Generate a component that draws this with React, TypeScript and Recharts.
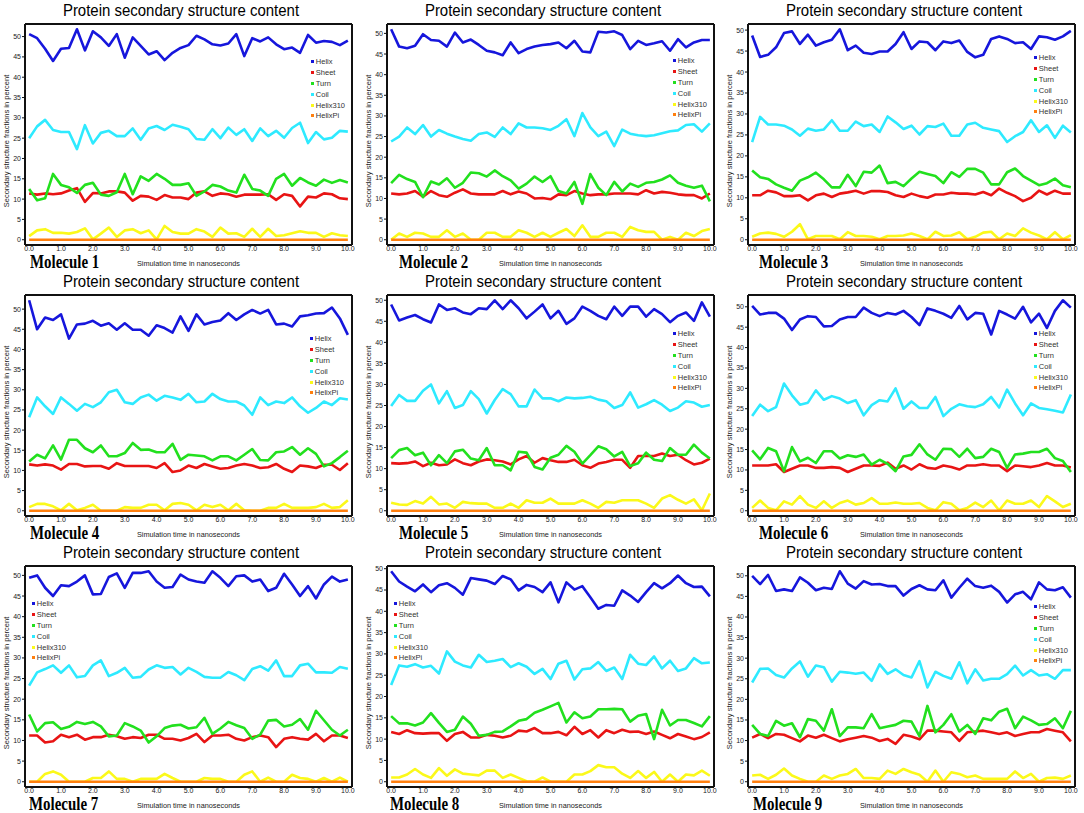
import { LineChart, Line, XAxis, YAxis } from "recharts";

// simulation time in ns, one frame every 0.25 ns
const TIME = [
  0, 0.25, 0.5, 0.75, 1, 1.25, 1.5, 1.75, 2, 2.25, 2.5, 2.75, 3, 3.25, 3.5, 3.75, 4, 4.25, 4.5, 4.75, 5,
  5.25, 5.5, 5.75, 6, 6.25, 6.5, 6.75, 7, 7.25, 7.5, 7.75, 8, 8.25, 8.5, 8.75, 9, 9.25, 9.5, 9.75, 10,
];
const X_TICKS = [0, 1, 2, 3, 4, 5, 6, 7, 8, 9, 10];
const Y_TICKS = [0, 5, 10, 15, 20, 25, 30, 35, 40, 45, 50];
const MOLECULE_NAMES = [
  "Molecule 1", "Molecule 2", "Molecule 3", "Molecule 4", "Molecule 5",
  "Molecule 6", "Molecule 7", "Molecule 8", "Molecule 9",
];

const m1Helix = [50.6, 49.6, 47, 44, 47, 47.2, 51.8, 46.6, 51.3, 49.8, 47.7, 50.6, 44.8, 49.8, 47.7, 45.6, 46.4, 44.2, 46, 47.2, 47.9, 50.2, 49.3, 48.1, 47.8, 48.3, 50.6, 45.2, 49.6, 48.8, 49.8, 48.1, 46.9, 47.3, 46, 50.4, 48.5, 48.9, 48.7, 47.9, 49];
const m1Sheet = [11.4, 11.1, 11.4, 11.2, 11.4, 12.1, 12.7, 9.3, 11.5, 11.4, 11.9, 11.9, 11.6, 9.6, 10.8, 10.6, 9.8, 11, 10.4, 10.4, 10, 11.6, 11.9, 10.8, 11.4, 11.2, 10.6, 11.1, 11.1, 11.1, 11.2, 9.8, 11.2, 10.8, 8.2, 10.6, 10.4, 11.4, 11.2, 10.2, 10];
const m1Turn = [12.5, 9.7, 10.2, 16.2, 13.5, 12.9, 11.5, 13.5, 14, 11.1, 10.8, 11.7, 16.2, 11.2, 15.6, 14.5, 16.2, 15, 13.5, 13.5, 13.9, 10.8, 11.9, 13.5, 13.1, 12.1, 11.6, 16, 12.5, 12.1, 10.8, 15, 16.2, 13.3, 15.2, 14.1, 13.3, 14.8, 14, 14.7, 14.1];
const m1Coil = [25, 27.9, 29.5, 27, 26.5, 26.5, 22.3, 28.2, 23.7, 26.3, 26.8, 25.5, 25.5, 27.4, 24.6, 27.4, 28, 27, 28.3, 27.8, 27.2, 24.8, 24.6, 27.2, 25, 27.6, 25.8, 27.2, 24.3, 27.4, 25.5, 26.8, 25.1, 27.5, 28.8, 23.8, 26.5, 24.7, 25.1, 26.8, 26.6];
const m1H310 = [0.9, 2.3, 2.6, 1.7, 1.7, 1.5, 1.9, 2.8, 0.1, 1.5, 3, 0.7, 2.3, 2.6, 1.6, 2.3, 0.1, 3.4, 1.9, 1.5, 1.5, 2.6, 2, 0.7, 3, 1.5, 1.6, 0.7, 2.7, 0.7, 2.7, 0.9, 1.1, 1.6, 2.1, 1.7, 1.7, 0.7, 1.6, 1.1, 0.9];

const m2Helix = [51, 46.8, 46.4, 47, 49.8, 48.4, 48.2, 46.8, 50.2, 47.8, 48.5, 47.2, 45.8, 45.4, 44.7, 47.8, 45.2, 46.2, 46.8, 47.2, 47.4, 47.8, 46.4, 48.2, 45.6, 45.4, 50.4, 50.2, 50.5, 49.6, 46.2, 48.2, 47.2, 47.6, 48.1, 45.8, 48.6, 46.6, 47.8, 48.4, 48.4];
const m2Sheet = [11.2, 11, 11.2, 11.8, 10.4, 11.8, 10.8, 10.4, 11.4, 12.2, 11.2, 11, 11, 11, 11.8, 11, 11.7, 11.2, 10, 10.1, 9.8, 11, 10.8, 11.8, 11.2, 10.8, 11, 11, 11.2, 11.2, 11.2, 11, 12, 11.2, 11.6, 11.4, 11, 10.8, 10.8, 10, 11.2];
const m2Turn = [13.7, 15.7, 14.7, 14, 10.3, 14.1, 13.4, 14.9, 12.6, 13.8, 16.3, 16.1, 15.3, 16.8, 15.4, 14.4, 12.4, 13.6, 15.3, 14, 15.4, 11.8, 11.2, 14, 8.7, 15.9, 12.6, 10.8, 14, 11.7, 13.6, 12.8, 13.8, 14, 14.6, 15.6, 13.8, 13.1, 12.6, 13.1, 9.3];
const m2Coil = [23.8, 25, 27.2, 25.6, 27.8, 25, 26.6, 25.7, 25, 24.4, 24, 25.6, 26, 24.9, 27.2, 25.6, 28.2, 27.2, 27.2, 27, 26.6, 27.6, 29.2, 25.1, 30.7, 27.2, 25.1, 26.2, 22.7, 26.7, 25.7, 25.3, 25.1, 25.3, 25.8, 26.3, 26.5, 27.8, 28, 26.2, 28.2];
const m2H310 = [0, 1.5, 0.7, 1.7, 1.5, 0.7, 0.7, 2.3, 0.7, 1.5, 0, 0, 1.7, 1.7, 0.7, 0.7, 2.3, 1.7, 0.7, 1.7, 0.7, 1.7, 2.6, 0.9, 3.5, 0.7, 0.7, 1.7, 1.7, 0.7, 3.1, 2.3, 1.9, 1.9, 0, 0.7, 0, 1.7, 0.9, 2.1, 2.6];

const m3Helix = [48.7, 43.6, 44.1, 45.9, 49.3, 49.7, 46.7, 48.9, 46.3, 47.1, 47.7, 50.2, 45.2, 46.3, 44.6, 44.3, 44.9, 44.9, 46.7, 49.5, 45.5, 47.3, 47.1, 45.2, 47.3, 46.9, 47.5, 44.8, 43.5, 44.1, 47.9, 48.5, 47.9, 46.9, 47.1, 45.5, 48.5, 48.3, 47.7, 48.5, 49.8];
const m3Sheet = [10.6, 10.6, 11.7, 11.3, 10.4, 10.4, 10.6, 9.4, 10.6, 11, 10.2, 11, 11.3, 11.7, 11, 11.6, 11.6, 11.4, 10.6, 10.2, 11, 10.4, 10, 10.8, 10.8, 11.2, 11, 11, 10.8, 11.4, 10.6, 12.2, 11.2, 10.4, 9.2, 10, 11.7, 10.8, 11.7, 11, 11];
const m3Turn = [16.5, 14.9, 14.5, 13.2, 12.4, 11.7, 14.1, 14.9, 16, 14.4, 12.5, 12.5, 15.5, 12.8, 16.2, 16, 17.7, 13.5, 13.8, 12.8, 14.6, 16.2, 15.7, 15.2, 13.5, 16.1, 15, 16.9, 16.9, 16, 13.2, 13.2, 16.1, 17, 15.2, 14.1, 13, 13.5, 14.6, 13, 12.5];
const m3Coil = [23.3, 29.3, 27.5, 27.5, 27.2, 26.3, 24.8, 26.5, 26, 26.3, 28.5, 26, 26, 28.2, 27.1, 27.5, 25.7, 29.4, 28, 26.4, 27.2, 25.1, 27.1, 26.9, 27.7, 24.8, 24.8, 27.5, 27.9, 26.7, 26.3, 25.9, 23.3, 24.7, 25.7, 28.5, 25.7, 27.3, 24.3, 27.2, 25.6];
const m3H310 = [0.7, 1.5, 1.7, 1.4, 0.7, 1.9, 3.7, 0.1, 0.9, 0.9, 0.9, 0.1, 1.8, 0.9, 0.9, 0.7, 0.1, 0.9, 0.9, 1, 1.5, 0.9, 0.1, 1.9, 0.9, 1, 1.8, 0.1, 0.7, 1.7, 1.9, 0.1, 1.5, 0.9, 2.7, 1.7, 1, 0.1, 1.8, 0.1, 1.1];

const m4Helix = [52.2, 45, 47.9, 47.3, 48.7, 42.7, 46.2, 46.4, 47.1, 45.9, 46.5, 44.9, 46.5, 44.9, 44.9, 43.4, 46, 45.3, 44.2, 48.2, 44.6, 48.7, 46.2, 46.8, 47.2, 49, 47.3, 48.7, 49.8, 48.9, 49.8, 46.2, 46.4, 45.7, 48.2, 48.5, 48.9, 49, 50.4, 47.7, 43.6];
const m4Sheet = [11.5, 11.2, 11.5, 11.2, 10.2, 11.6, 11.6, 11, 11.1, 11.1, 10.4, 11.8, 11.1, 11.1, 11.1, 11.1, 10.6, 11.8, 9.6, 10, 11.2, 10.6, 11.6, 11, 10.4, 10.6, 11.2, 11.6, 11.2, 10.6, 10.8, 11.6, 10.4, 9.6, 11.2, 11, 10.6, 11.4, 11.4, 10.1, 11.8];
const m4Turn = [12.2, 13.9, 13, 16.2, 12.7, 17.6, 17.6, 15.5, 14.5, 16.2, 13.5, 13.5, 14.3, 16.8, 15.1, 15.2, 14.5, 14.5, 16.6, 12.6, 13.9, 13.7, 13.5, 12.5, 13.5, 13.5, 12.5, 13.9, 15.3, 12.6, 12.5, 14.5, 14.7, 15.8, 13.9, 15.5, 14.1, 11, 11.8, 13.3, 14.9];
const m4Coil = [23.2, 28.1, 25.9, 24, 28.1, 26.5, 24.8, 26.5, 25.7, 26.9, 29.4, 30, 26.9, 26.5, 28.1, 28.8, 27.3, 28.5, 28.1, 27.5, 29, 26.9, 27.1, 29, 27.7, 27.1, 27.1, 26.1, 23.8, 28.1, 26.2, 27.1, 26.7, 28.1, 25.9, 24.3, 25.5, 27.1, 26.2, 27.9, 27.6];
const m4H310 = [0.9, 1.7, 1.7, 1.1, 0.1, 1.7, 0.1, 0.7, 1.5, 0, 0, 0, 0.9, 0.7, 0.7, 1.5, 1.5, 0.1, 1.7, 1.9, 1.5, 0.1, 1.5, 0.9, 1.5, 0.1, 1.7, 0.1, 0, 0, 0.7, 0.7, 1.7, 0.7, 0.7, 0.7, 0.9, 1.7, 0.7, 0.9, 2.6];

const m5Helix = [49, 45.2, 45.9, 46.5, 45.5, 44.7, 49, 47.7, 48.1, 47.1, 46.7, 48.1, 47.9, 50, 47.9, 50, 48.1, 45.7, 47.3, 49, 45.7, 47.5, 44.4, 45.7, 48.5, 47.5, 46.3, 45.5, 48.5, 46.3, 48.5, 48.5, 46.1, 47.9, 46.7, 44.8, 46.3, 47.1, 45.1, 49.5, 46.1];
const m5Sheet = [11.3, 11.2, 11.3, 11.7, 10.6, 11.4, 10.8, 11, 12.2, 11.3, 10.8, 11.7, 12.2, 12, 11.7, 11, 12.2, 13, 11.4, 12.5, 12, 11.6, 11.6, 12.1, 10.8, 10.2, 11.2, 11.6, 12.1, 12.1, 10.2, 13, 13, 13, 13.6, 13, 13.3, 12, 11, 11.4, 12.4];
const m5Turn = [12.5, 14.4, 14.9, 13.2, 13.8, 10.8, 13.2, 11.3, 14.1, 14.5, 12.4, 12, 14.9, 10.8, 10.8, 9.6, 14, 13.8, 10.4, 9.8, 12.6, 13.3, 15.4, 14, 11.2, 13.2, 15.3, 14.6, 12.9, 14, 10.6, 11.3, 13.8, 12.1, 11.8, 14.9, 13.3, 13.3, 15.7, 13.8, 12.4];
const m5Coil = [24.9, 27.5, 26.1, 26.1, 28.5, 30, 25.5, 28.4, 24.4, 25.1, 28.4, 26.5, 23.1, 26.3, 28.9, 27.7, 24.8, 24.8, 28.8, 26.7, 26.7, 26, 26.9, 26.7, 26.8, 27.1, 26.4, 26, 24.4, 25.1, 28.1, 24.5, 25.3, 26.3, 25.2, 23.7, 24.5, 26, 25.7, 24.7, 25.1];
const m5H310 = [1.9, 1.5, 1.4, 2.3, 1.7, 3.3, 1.5, 1.7, 0.7, 2.1, 1.8, 1.7, 1.7, 0.7, 0.7, 1.7, 0.7, 2.5, 1.9, 1.9, 2.9, 1.7, 1.7, 1.7, 2.5, 1.7, 0.7, 2.1, 1.9, 2.5, 2.5, 2.5, 1.7, 0.7, 2.9, 3.7, 2.6, 1.7, 2.7, 0.1, 4.1];

const m6Helix = [50.2, 48.1, 48.5, 48.5, 47.1, 44.3, 46.9, 47.7, 47.5, 45.2, 45.3, 46.9, 47.5, 47.5, 49.8, 48.5, 47.7, 48.5, 48.1, 49, 47.5, 45.5, 49.6, 49, 48.3, 47.3, 50.2, 46.9, 48.5, 48.3, 43.2, 49, 48.1, 47.1, 50, 46.2, 48.3, 44.8, 49, 51.6, 49.8];
const m6Sheet = [11.1, 11.1, 11.1, 11.4, 9.5, 10.3, 11.1, 11.1, 10.5, 10.5, 10.7, 10.5, 9.5, 10.3, 11.1, 11.1, 11, 11.8, 10.3, 11.1, 10.1, 11.4, 10.5, 10.3, 11.1, 10.7, 10.1, 11.1, 11.1, 11.4, 11.1, 11.1, 9.7, 11.1, 10.9, 10.7, 11.1, 11.7, 11.1, 11.1, 10.6];
const m6Turn = [14.8, 12.6, 15.4, 14.6, 9.7, 15.6, 12.1, 13, 11.7, 14.6, 14.6, 12.8, 13.6, 13.2, 13.8, 11.3, 12.5, 11.5, 9.7, 13.3, 13.7, 16.3, 13.8, 12.5, 15.2, 15.1, 13.2, 15.2, 12.9, 13.2, 15.2, 14.4, 10.5, 13.8, 14, 14.4, 14.4, 15.2, 12.9, 12.2, 9.5];
const m6Coil = [23.2, 26, 24.4, 25.4, 31.2, 28.3, 26, 26.5, 29.5, 27.2, 28.1, 27.5, 26.4, 27.1, 23.4, 25.9, 27.1, 26.8, 30, 25, 26.8, 25.2, 25.2, 27.9, 23.2, 25, 26.1, 25.6, 25.4, 26.1, 27.9, 25.3, 29.7, 26.3, 23.4, 26.3, 25.2, 24.9, 24.5, 24.1, 28.5];
const m6H310 = [0.7, 2.5, 0.7, 0.1, 2.3, 1.5, 3.6, 1.5, 0.7, 2.3, 0.7, 1.9, 2.5, 1.5, 1.9, 3.1, 1.7, 1.7, 2, 1.7, 1.7, 1.9, 0.7, 0.1, 2.1, 1.7, 0.1, 0.7, 2, 0.9, 2.5, 0.1, 2.5, 1.7, 1.7, 2.5, 0.9, 3.6, 2.3, 0.9, 1.7];

const m7Helix = [49.4, 50, 47, 45, 47.6, 47.4, 48.5, 50, 45.4, 45.5, 49.6, 50.5, 47, 50.6, 50.6, 51, 48.5, 47, 47.2, 50.2, 49, 48.5, 48.2, 51, 49.4, 47.4, 49.8, 50, 48.5, 49, 46.2, 47, 50.4, 47.8, 45, 47.4, 44.4, 47.8, 49.7, 48.5, 49];
const m7Sheet = [11.2, 11.2, 9.5, 9.8, 11.4, 10.8, 11.4, 10.2, 10.8, 10.8, 11.4, 11, 10.4, 10.8, 10.6, 11.4, 11.4, 10.4, 10.4, 10, 10.6, 11.6, 9.6, 11.2, 11.2, 11.4, 10.4, 10, 10.8, 11.2, 10.8, 8.4, 10.4, 10.8, 10.4, 10.2, 11.6, 9.8, 11.2, 11.2, 10.6];
const m7Turn = [16.3, 12.2, 14.2, 14.4, 12.8, 13.3, 14.5, 14, 14.5, 13.4, 11, 11.2, 14.2, 13.4, 12.4, 9.5, 11, 13, 13.6, 13.8, 12.9, 13.2, 15.5, 11.6, 12.9, 14.5, 13.7, 13, 10.4, 11.4, 14.8, 15, 13.4, 13.8, 15.2, 12.6, 17.2, 14.9, 12.6, 11.2, 12.6];
const m7Coil = [23.3, 26.5, 27.3, 28.2, 26.4, 28.2, 25.3, 25.6, 28.2, 29.4, 25.6, 26.4, 27.6, 25.2, 25.4, 27.2, 28.2, 27.6, 27.8, 26, 27.6, 26.6, 25.4, 25.2, 25.2, 26.6, 25.8, 24.6, 27.3, 28, 26.9, 29.4, 25.6, 25.6, 28.2, 28.6, 26.5, 26.5, 26.4, 27.8, 27.4];
const m7H310 = [0, 0, 1.9, 2.5, 1.7, 0, 0, 0, 0.9, 0.9, 2.5, 0.7, 0.7, 0, 0.7, 0.7, 0.7, 1.9, 0.9, 0, 0, 0, 0.9, 0.7, 0.7, 0, 0, 1.7, 2.5, 0, 1, 0, 0, 1.7, 0.9, 0.7, 0, 0.9, 0, 1, 0];

const m8Helix = [49.4, 47, 45.8, 44.7, 46.3, 44.5, 46.1, 46.6, 45.5, 43.9, 47.8, 47.5, 47.2, 46.4, 48.3, 47.5, 44.9, 46.2, 45.7, 44.5, 46.8, 42.1, 46.8, 45.1, 45.9, 43.3, 40.6, 41.5, 41.3, 44.9, 43.7, 42.2, 44.5, 46.6, 45.4, 46.6, 48.4, 46.6, 45.7, 45.8, 43.5];
const m8Sheet = [11.7, 11.2, 12.1, 11.4, 11.3, 11.4, 11.4, 9.6, 11.2, 11.7, 10.4, 10.4, 11, 10.8, 10.4, 10.8, 12, 11.8, 12.6, 11.4, 11.4, 11.7, 10.9, 12.9, 11.2, 12.1, 10.4, 12.1, 11.4, 12.2, 11.7, 11.8, 11.2, 11.8, 11, 10.2, 11.2, 10.6, 10, 10.5, 11.6];
const m8Turn = [15.4, 13.7, 13.7, 13.2, 13.9, 16.1, 13.8, 11.7, 12.2, 15.3, 13.6, 10.8, 11, 11.7, 11.8, 13, 14.3, 14.7, 16.2, 16.9, 17.7, 18.5, 13.9, 16.3, 14.9, 15.3, 17, 17, 17.1, 17, 14.1, 15.5, 15.9, 10, 16.9, 13.2, 14.5, 14.5, 13.8, 13, 15.4];
const m8Coil = [22.7, 27.3, 27, 27.6, 26.8, 27.2, 25.4, 30.6, 28.2, 27.3, 26.8, 29.8, 28.1, 28.4, 28.8, 26.9, 27.8, 27, 25.3, 26.5, 24.1, 27.7, 28.4, 24, 26.4, 26.6, 28.1, 26, 26.8, 24.1, 29.8, 27.7, 27.4, 29.4, 26.6, 28.4, 26, 26.6, 29, 27.8, 28];
const m8H310 = [1, 1, 1.7, 3, 1.7, 0.9, 3.2, 1.4, 2.9, 1.9, 1.7, 1.5, 2.6, 2.6, 0.9, 1.7, 0.9, 0.1, 0, 1, 0, 0, 0, 1.7, 1.7, 2.5, 3.9, 3.4, 3.4, 1.9, 0.9, 2.5, 0.9, 2.3, 0, 1.7, 0, 1.7, 1.5, 2.6, 1.4];

const m9Helix = [50, 48, 50.2, 46.3, 46.7, 46.3, 49.6, 48.3, 46.5, 47.1, 46.8, 51.1, 48.1, 46.9, 48.7, 47.9, 48, 47.5, 47.5, 45.2, 46.8, 47.7, 46.7, 46.5, 48.9, 44.7, 47.1, 49.3, 47.5, 47.1, 47.6, 46.1, 43.5, 45.5, 46.1, 44.3, 48.4, 46.7, 46.5, 47.2, 44.7];
const m9Sheet = [10.7, 11.6, 10.6, 11.6, 11.4, 10.6, 9.8, 11.2, 10.7, 11.4, 10.6, 9.8, 10.3, 10.7, 11.1, 10.7, 9.9, 10.4, 9.2, 11.4, 11, 10.3, 12.4, 12.4, 12.2, 12, 9.9, 12, 12.2, 12.4, 12, 11.6, 12, 11.1, 11.6, 12, 12, 12.8, 12.4, 12, 9.8];
const m9Turn = [13.8, 11.6, 11.1, 14.8, 13.6, 14.2, 10.8, 15.2, 14.8, 12.4, 17.6, 11.1, 13.2, 13.2, 13, 16.4, 13, 13.4, 13.8, 14.8, 14.6, 11.1, 18.4, 12, 13.8, 16.4, 12.2, 13.8, 11.6, 15.4, 14.9, 17, 17.7, 13, 15.8, 14.9, 13.8, 14, 15.4, 13, 17.2];
const m9Coil = [24.1, 27.4, 27.5, 25.9, 25.3, 27.5, 29.2, 25.5, 28.2, 27.8, 24.3, 26.7, 26.5, 26.2, 26.5, 24.5, 28.5, 26.2, 27.3, 25.9, 25.3, 29.3, 22.9, 26.7, 25.7, 25, 29, 23.9, 27.3, 24.6, 25, 25, 26.1, 28.2, 25.8, 27.1, 25.8, 26.1, 25, 27.1, 27.1];
const m9H310 = [1.5, 1.7, 0.7, 1.7, 3.2, 1.5, 0.7, 0, 0, 1.5, 0.7, 1.5, 1.9, 3.1, 0.9, 0.9, 0.7, 2.7, 1.9, 3.1, 2.3, 1.7, 0, 2.7, 0, 2.3, 1.9, 1.1, 1.5, 0.7, 0.7, 0.7, 0.7, 2.5, 0.9, 1.9, 0, 0.9, 1, 0.7, 1.5];

// pi-helix never shows up in any of the runs
const helixPi = [0, 0, 0, 0, 0, 0, 0, 0, 0, 0, 0, 0, 0, 0, 0, 0, 0, 0, 0, 0, 0, 0, 0, 0, 0, 0, 0, 0, 0, 0, 0, 0, 0, 0, 0, 0, 0, 0, 0, 0, 0];

const MOLECULES = [
  [m1Helix, m1Sheet, m1Turn, m1Coil, m1H310],
  [m2Helix, m2Sheet, m2Turn, m2Coil, m2H310],
  [m3Helix, m3Sheet, m3Turn, m3Coil, m3H310],
  [m4Helix, m4Sheet, m4Turn, m4Coil, m4H310],
  [m5Helix, m5Sheet, m5Turn, m5Coil, m5H310],
  [m6Helix, m6Sheet, m6Turn, m6Coil, m6H310],
  [m7Helix, m7Sheet, m7Turn, m7Coil, m7H310],
  [m8Helix, m8Sheet, m8Turn, m8Coil, m8H310],
  [m9Helix, m9Sheet, m9Turn, m9Coil, m9H310],
].map((s) => [...s, helixPi]);

const SERIES = [
  { key: "helix", name: "Helix", color: "#1616dc" },
  { key: "sheet", name: "Sheet", color: "#e81414" },
  { key: "turn", name: "Turn", color: "#22e01e" },
  { key: "coil", name: "Coil", color: "#2eeaff" },
  { key: "h310", name: "Helix310", color: "#fbf91a" },
  { key: "pi", name: "HelixPi", color: "#ff7f0e" },
];

// layout of the 3x3 grid
const COL_X = [0, 362, 723];
const ROW_Y = [0, 271, 542];
const LEGEND_XY = [
  [311, 62], [311, 61], [311, 58],
  [310, 68], [311, 63], [311, 63],
  [32, 62], [32, 62], [311, 65],
];
const LABEL_X = [30, 37, 36, 30, 37, 36, 29, 28, 30];

const FONT = '"Liberation Sans", Arial, Helvetica, sans-serif';
const BORDER = { stroke: "#111", strokeWidth: 2 };

function Panel({ idx }: { idx: number }) {
  const cols = MOLECULES[idx];
  const rows = TIME.map((t, i) => {
    const r: Record<string, number> = { t };
    SERIES.forEach((s, k) => {
      r[s.key] = cols[k][i];
    });
    return r;
  });
  const maxV = Math.max(...cols.flat());
  const pad = maxV * 0.025;
  const [lx, ly] = LEGEND_XY[idx];

  return (
    <div
      style={{
        position: "absolute",
        left: COL_X[idx % 3],
        top: ROW_Y[Math.floor(idx / 3)],
        width: 362,
        height: 271,
        fontFamily: FONT,
      }}
    >
      <LineChart width={362} height={271} data={rows} margin={{ top: 23, right: 9, bottom: 0, left: 0 }}>
        <XAxis
          dataKey="t"
          type="number"
          domain={[-0.13, 10.13]}
          allowDataOverflow
          ticks={X_TICKS}
          interval={0}
          tickFormatter={(v: number) => v.toFixed(1)}
          height={26}
          tickSize={1}
          tickMargin={0}
          tickLine={false}
          axisLine={BORDER}
          tick={{ fontSize: 7, fill: "#222", fontFamily: FONT }}
        />
        <XAxis
          xAxisId="top"
          orientation="top"
          dataKey="t"
          type="number"
          domain={[-0.13, 10.13]}
          allowDataOverflow
          height={1}
          tick={false}
          tickLine={false}
          axisLine={BORDER}
        />
        <YAxis
          type="number"
          domain={[-pad, maxV + pad]}
          allowDataOverflow
          ticks={Y_TICKS}
          interval={0}
          width={25}
          tickSize={3}
          tickMargin={1}
          tickLine={{ stroke: "#111" }}
          axisLine={BORDER}
          tick={{ fontSize: 7, fill: "#222", fontFamily: FONT }}
        />
        <YAxis
          yAxisId="right"
          orientation="right"
          type="number"
          domain={[0, 1]}
          width={1}
          tick={false}
          tickLine={false}
          axisLine={BORDER}
        />
        {SERIES.map((s) => (
          <Line
            key={s.key}
            dataKey={s.key}
            name={s.name}
            type="linear"
            stroke={s.color}
            strokeWidth={2.6}
            strokeLinejoin="round"
            dot={false}
            isAnimationActive={false}
          />
        ))}
      </LineChart>

      <div
        style={{
          position: "absolute",
          left: 0,
          top: 3,
          width: 362,
          textAlign: "center",
          fontSize: 16,
          lineHeight: 1,
          color: "#000",
          whiteSpace: "nowrap",
          transform: "scaleX(0.935)",
        }}
      >
        Protein secondary structure content
      </div>

      <div
        style={{
          position: "absolute",
          left: 7,
          top: 141,
          fontSize: 7.5,
          lineHeight: 1,
          color: "#222",
          whiteSpace: "nowrap",
          transform: "translate(-50%, -50%) rotate(-90deg)",
        }}
      >
        Secondary structure fractions in percent
      </div>

      <div
        style={{
          position: "absolute",
          left: 25,
          top: 260,
          width: 327,
          textAlign: "center",
          fontSize: 7.3,
          lineHeight: 1,
          color: "#222",
          whiteSpace: "nowrap",
        }}
      >
        Simulation time in nanoseconds
      </div>

      <div
        style={{
          position: "absolute",
          left: LABEL_X[idx],
          top: 253,
          fontFamily: '"Liberation Serif", "Times New Roman", serif',
          fontWeight: "bold",
          fontSize: 18,
          lineHeight: 1,
          color: "#000",
          whiteSpace: "nowrap",
          transform: "scaleX(0.83)",
          transformOrigin: "left center",
        }}
      >
        {MOLECULE_NAMES[idx]}
      </div>

      <div style={{ position: "absolute", left: lx, top: ly - 5.4 }}>
        {SERIES.map((s) => (
          <div
            key={s.key}
            style={{ display: "flex", alignItems: "center", height: 10.8, fontSize: 7.5, color: "#333", whiteSpace: "nowrap" }}
          >
            <span style={{ display: "inline-block", width: 3, height: 3, background: s.color, marginRight: 1.8 }} />
            {s.name}
          </div>
        ))}
      </div>
    </div>
  );
}

export default function App() {
  return (
    <div style={{ position: "absolute", left: 0, top: 0, width: 1084, height: 813, background: "#fff", overflow: "hidden" }}>
      {MOLECULE_NAMES.map((_, i) => (
        <Panel key={i} idx={i} />
      ))}
    </div>
  );
}
